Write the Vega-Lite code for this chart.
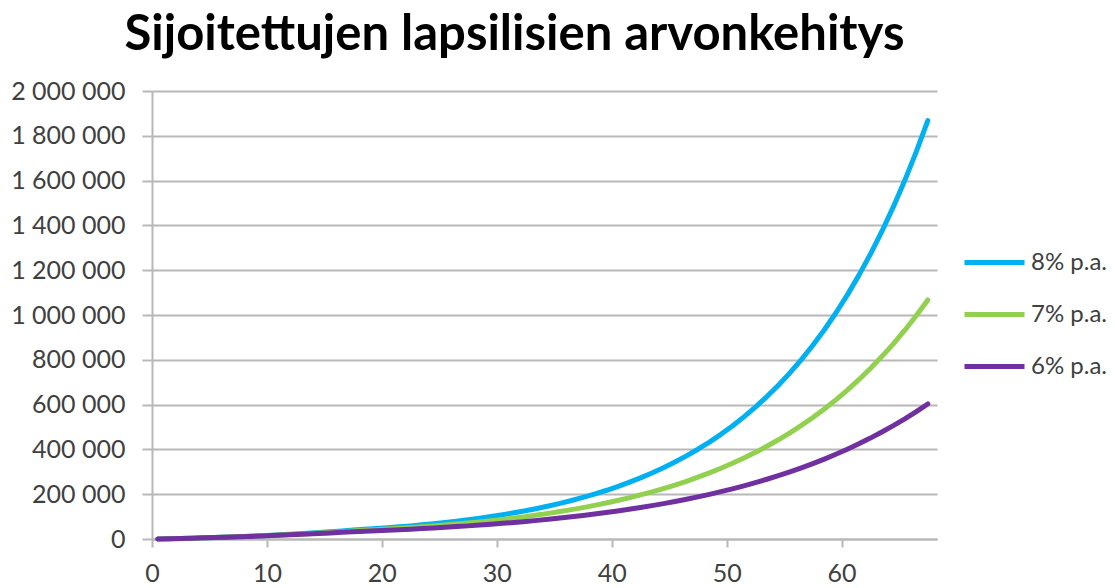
{
  "$schema": "https://vega.github.io/schema/vega-lite/v6.json",
  "autosize": {"type": "none"},
  "padding": {"left": 152, "top": 91, "right": 178, "bottom": 49},
  "width": 785,
  "height": 448,
  "background": "white",
  "config": {
    "view": {"stroke": null},
    "locale": {"number": {"decimal": ",", "thousands": "\u00a0", "grouping": [3], "currency": ["", " €"]}},
    "font": "Lato"
  },
  "title": {
    "text": "Sijoitettujen lapsilisien arvonkehitys",
    "font": "Lato",
    "fontSize": 49,
    "fontWeight": "bold",
    "color": "#000000",
    "anchor": "middle",
    "dx": -30,
    "offset": 19
  },
  "data": {
    "values": [
      {"t": 0.5, "p8": 0, "p7": 0, "p6": 0},
      {"t": 1.5, "p8": 1180, "p7": 1175, "p6": 1160},
      {"t": 2.5, "p8": 2454, "p7": 2432, "p6": 2390},
      {"t": 3.5, "p8": 3830, "p7": 3777, "p6": 3693},
      {"t": 4.5, "p8": 5316, "p7": 5216, "p6": 5075},
      {"t": 5.5, "p8": 6921, "p7": 6756, "p6": 6540},
      {"t": 6.5, "p8": 8655, "p7": 8404, "p6": 8092},
      {"t": 7.5, "p8": 10527, "p7": 10167, "p6": 9738},
      {"t": 8.5, "p8": 12549, "p7": 12054, "p6": 11482},
      {"t": 9.5, "p8": 14733, "p7": 14073, "p6": 13331},
      {"t": 10.5, "p8": 17092, "p7": 16233, "p6": 15291},
      {"t": 11.5, "p8": 19639, "p7": 18544, "p6": 17368},
      {"t": 12.5, "p8": 22390, "p7": 21017, "p6": 19570},
      {"t": 13.5, "p8": 25361, "p7": 23663, "p6": 21904},
      {"t": 14.5, "p8": 28570, "p7": 26494, "p6": 24378},
      {"t": 15.5, "p8": 32036, "p7": 29524, "p6": 27001},
      {"t": 16.5, "p8": 35779, "p7": 32766, "p6": 29781},
      {"t": 17.5, "p8": 39821, "p7": 36235, "p6": 32728},
      {"t": 18.5, "p8": 43007, "p7": 38771, "p6": 34692},
      {"t": 19.5, "p8": 46447, "p7": 41485, "p6": 36773},
      {"t": 20.5, "p8": 50163, "p7": 44389, "p6": 38979},
      {"t": 21.5, "p8": 54176, "p7": 47496, "p6": 41318},
      {"t": 22.5, "p8": 58510, "p7": 50821, "p6": 43797},
      {"t": 23.5, "p8": 63191, "p7": 54378, "p6": 46425},
      {"t": 24.5, "p8": 68246, "p7": 58184, "p6": 49211},
      {"t": 25.5, "p8": 73706, "p7": 62257, "p6": 52164},
      {"t": 26.5, "p8": 79602, "p7": 66615, "p6": 55294},
      {"t": 27.5, "p8": 85970, "p7": 71278, "p6": 58612},
      {"t": 28.5, "p8": 92848, "p7": 76267, "p6": 62129},
      {"t": 29.5, "p8": 100276, "p7": 81606, "p6": 65857},
      {"t": 30.5, "p8": 108298, "p7": 87318, "p6": 69808},
      {"t": 31.5, "p8": 116962, "p7": 93430, "p6": 73996},
      {"t": 32.5, "p8": 126319, "p7": 99970, "p6": 78436},
      {"t": 33.5, "p8": 136425, "p7": 106968, "p6": 83142},
      {"t": 34.5, "p8": 147339, "p7": 114456, "p6": 88131},
      {"t": 35.5, "p8": 159126, "p7": 122468, "p6": 93419},
      {"t": 36.5, "p8": 171856, "p7": 131041, "p6": 99024},
      {"t": 37.5, "p8": 185604, "p7": 140214, "p6": 104965},
      {"t": 38.5, "p8": 200452, "p7": 150029, "p6": 111263},
      {"t": 39.5, "p8": 216488, "p7": 160531, "p6": 117939},
      {"t": 40.5, "p8": 233807, "p7": 171768, "p6": 125015},
      {"t": 41.5, "p8": 252512, "p7": 183792, "p6": 132516},
      {"t": 42.5, "p8": 272713, "p7": 196657, "p6": 140467},
      {"t": 43.5, "p8": 294530, "p7": 210423, "p6": 148895},
      {"t": 44.5, "p8": 318092, "p7": 225153, "p6": 157829},
      {"t": 45.5, "p8": 343539, "p7": 240914, "p6": 167299},
      {"t": 46.5, "p8": 371022, "p7": 257778, "p6": 177337},
      {"t": 47.5, "p8": 400704, "p7": 275822, "p6": 187977},
      {"t": 48.5, "p8": 432760, "p7": 295130, "p6": 199256},
      {"t": 49.5, "p8": 467381, "p7": 315789, "p6": 211211},
      {"t": 50.5, "p8": 504771, "p7": 337894, "p6": 223884},
      {"t": 51.5, "p8": 545153, "p7": 361547, "p6": 237317},
      {"t": 52.5, "p8": 588765, "p7": 386855, "p6": 251556},
      {"t": 53.5, "p8": 635866, "p7": 413935, "p6": 266649},
      {"t": 54.5, "p8": 686735, "p7": 442910, "p6": 282648},
      {"t": 55.5, "p8": 741674, "p7": 473914, "p6": 299607},
      {"t": 56.5, "p8": 801008, "p7": 507088, "p6": 317583},
      {"t": 57.5, "p8": 865089, "p7": 542584, "p6": 336638},
      {"t": 58.5, "p8": 934296, "p7": 580565, "p6": 356836},
      {"t": 59.5, "p8": 1009040, "p7": 621205, "p6": 378246},
      {"t": 60.5, "p8": 1089763, "p7": 664689, "p6": 400941},
      {"t": 61.5, "p8": 1176944, "p7": 711217, "p6": 424997},
      {"t": 62.5, "p8": 1271100, "p7": 761002, "p6": 450497},
      {"t": 63.5, "p8": 1372788, "p7": 814272, "p6": 477527},
      {"t": 64.5, "p8": 1482611, "p7": 871271, "p6": 506179},
      {"t": 65.5, "p8": 1601220, "p7": 932260, "p6": 536550},
      {"t": 66.5, "p8": 1729318, "p7": 997518, "p6": 568743},
      {"t": 67.5, "p8": 1867663, "p7": 1067344, "p6": 602868}
    ]
  },
  "encoding": {
    "x": {
      "field": "t",
      "type": "quantitative",
      "scale": {"domain": [0, 68.3], "nice": false, "zero": true},
      "axis": {
        "title": null,
        "values": [0, 10, 20, 30, 40, 50, 60],
        "grid": false,
        "domain": true,
        "domainColor": "#b8b8b8",
        "domainWidth": 2,
        "tickColor": "#b8b8b8",
        "tickWidth": 2,
        "tickSize": 8,
        "labelPadding": 14,
        "labelFont": "Lato",
        "labelFontSize": 25,
        "labelColor": "#404040",
        "labelFlush": false
      }
    }
  },
  "layer": [
    {
      "mark": {"type": "line", "strokeWidth": 5, "strokeCap": "round", "strokeJoin": "round"},
      "encoding": {
        "y": {
          "field": "p8",
          "type": "quantitative",
          "scale": {"domain": [0, 2000000], "nice": false},
          "axis": {
            "title": null,
            "values": [0, 200000, 400000, 600000, 800000, 1000000, 1200000, 1400000, 1600000, 1800000, 2000000],
            "format": ",d",
            "grid": true,
            "gridColor": "#b8b8b8",
            "gridWidth": 2,
            "domain": true,
            "domainColor": "#b8b8b8",
            "domainWidth": 2,
            "tickColor": "#b8b8b8",
            "tickWidth": 2,
            "tickSize": 10,
            "labelPadding": 17,
            "labelFont": "Lato",
            "labelFontSize": 25,
            "labelColor": "#404040"
          }
        },
        "color": {
          "datum": "8% p.a.",
          "type": "nominal",
          "scale": {"domain": ["8% p.a.", "7% p.a.", "6% p.a."], "range": ["#00b0f0", "#92d050", "#7030a0"]},
          "legend": {
            "title": null,
            "orient": "none",
            "legendX": 810,
            "legendY": 139,
            "symbolType": "stroke",
            "symbolSize": 3600,
            "symbolStrokeWidth": 5,
            "rowPadding": 7,
            "labelFont": "Lato",
            "labelFontSize": 24,
            "labelColor": "#404040",
            "labelOffset": 4
          }
        }
      }
    },
    {
      "mark": {"type": "line", "strokeWidth": 5, "strokeCap": "round", "strokeJoin": "round"},
      "encoding": {
        "y": {"field": "p7", "type": "quantitative"},
        "color": {"datum": "7% p.a.", "type": "nominal"}
      }
    },
    {
      "mark": {"type": "line", "strokeWidth": 5, "strokeCap": "round", "strokeJoin": "round"},
      "encoding": {
        "y": {"field": "p6", "type": "quantitative"},
        "color": {"datum": "6% p.a.", "type": "nominal"}
      }
    }
  ]
}
